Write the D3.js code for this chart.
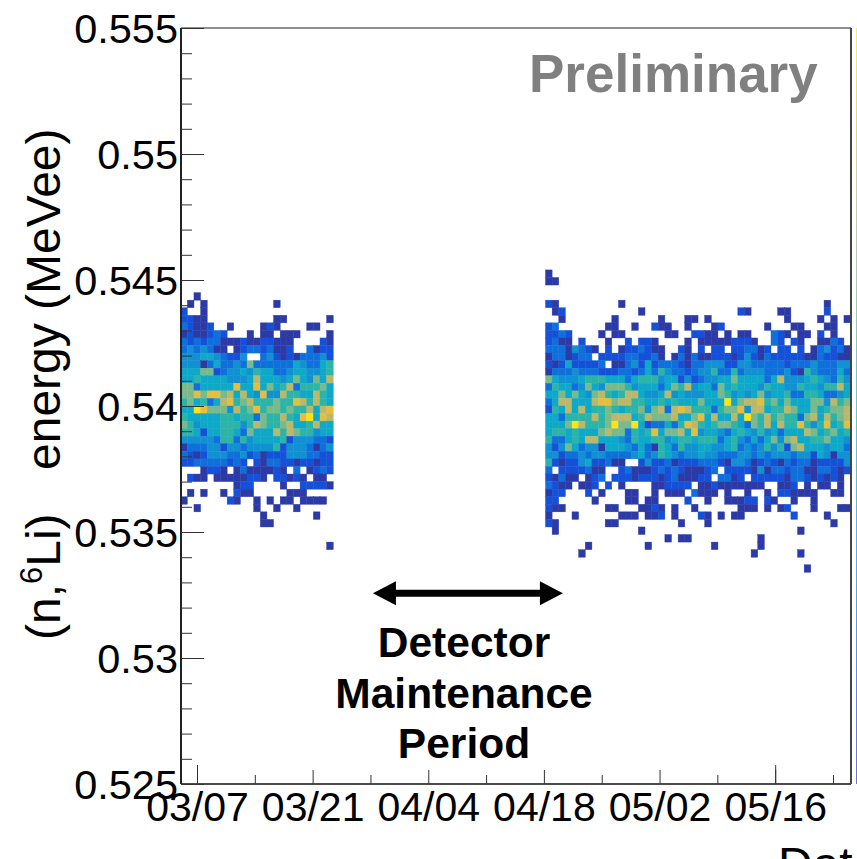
<!DOCTYPE html>
<html>
<head>
<meta charset="utf-8">
<script src="https://cdn.jsdelivr.net/npm/d3@7/dist/d3.min.js"></script>
<style>
body { margin: 0; background: #fff; }
text { font-family: "Liberation Sans", Arial, sans-serif; fill: #000; }
</style>
</head>
<body>
<div id="chart"></div>
<script>
// colour level of each bin: '.' empty, 1-9 then a = hottest
// first block: before the maintenance period, rows start at bin 35 from the top
const blockA = [
    "..1....................",
    ".1.1..........1........",
    "2..1...................",
    "2211..........11......1",
    "32112..1....121....11..",
    "1211232...1.11.111....1",
    "32323311121122111....21",
    "3434311.123323112..3122",
    "4445543224..34212133342",
    "44413533437333333543356",
    "55577234454655334554456",
    "55655554445855545754758",
    "77355555955957568366675",
    "77979978585494486655865",
    "67563589678666766986865",
    "55a97774867967767668589",
    "6555556656637668659a598",
    "76455566646876678556855",
    "66525566537555868766455",
    "44444366364555562444332",
    "13334424434444624443134",
    "32124443342312224443322",
    "2233333232.213322122122",
    "...1221.13111121.3.1232",
    ".211.11111221.22121.11.",
    "........122....1..22221",
    ".1.1..1.211.....111....",
    "1......21..1.1.11.1111.",
    "..1........1..1..1.....",
    "............1.......1..",
    "............11.........",
    ".......................",
    ".......................",
    "......................1"
];
// second block: after the period, rows start at bin 32
const blockB = [
    "1.....................",
    "11....................",
    "......................",
    "......................",
    "21.........1..........",
    ".12...........1.......",
    "..1.......1......1...1",
    "23.......11..1..211..1",
    "2232....1.11......11..",
    "2311.2...1..2.221....1",
    "33314321.2.1223211..21",
    "1331233.2222332231.131",
    "212522223.113425233321",
    "1333433322233235364332",
    "7544456665553566645524",
    "3655347547776455535768",
    "5575754786568854458454",
    "3588555899788665565655",
    "2658585667656674783898",
    "5536666867888568777855",
    "5557a86667a77a52335369",
    "5665655578773656957785",
    "6335658855543655664566",
    "4247534415554353165364",
    "4423343443333453465434",
    "621224522311..24223122",
    "3.2222311..23111232321",
    "21311.123.222122212311",
    "3211.112.2.1....112222",
    "122...2.1...11..1.111.",
    "22.....1....11.11....2",
    "211......11...1121.1..",
    "1...1......111.112.1..",
    "21.......11.........1.",
    ".1............1.......",
    "..................1.11",
    "......1........1......",
    ".....1................"
];
// third block: rest of the run, rows start at bin 36
const blockC = [
    "....................1...",
    ".......21....11.....2...",
    "1.1...........1....1.1.1",
    "...12......1...11...11..",
    "2211.1.11...321.11.2.1..",
    ".111112221..32.21..1132.",
    ".2.22.223312.22.2.134231",
    "311222124213222221132211",
    "334442244333332333433344",
    "344633634443334216433353",
    "234455755553584445654364",
    "455375655546554465546685",
    "445576454574556336653345",
    "57555a578896757555774867",
    "666367794885668755756778",
    "79585585a768676637858678",
    "865677653768586696469569",
    "945543565464535558756756",
    "566635643535747855667554",
    "455445634346462785554553",
    "454433344343444344254144",
    "233321443123213233122224",
    "1123.2222141332331133212",
    "122.3312.22222133212121.",
    ".1121111111..112.1.11.1.",
    "3111.1..1..1.221111..11.",
    "..1..11122.21..1..1.....",
    "1......111.1.12...1...11",
    ".21.1.11.......2....1...",
    "..1..................1..",
    "................1.......",
    "..........1.............",
    "...1......1.............",
    ".........1......1.......",
    "........................",
    ".................1......"
];

const levelColors = ["#2b3aa6", "#1550d8", "#0f70dc", "#1190d2", "#0ea8c8",
    "#2cb4a8", "#78ba8c", "#bcb86a", "#e6be3e", "#ffe414"];

const yTicksMajor = [0.525, 0.53, 0.535, 0.54, 0.545, 0.55, 0.555];
const yTicksMinor = d3.range(0.525, 0.5551, 0.001);
const xTickDates = ["2021-03-07", "2021-03-21", "2021-04-04", "2021-04-18", "2021-05-02", "2021-05-16"];
const xTickTall = ["2021-03-07", "2021-05-16"];
const xTickMinor = ["2021-03-14", "2021-03-28", "2021-04-11", "2021-04-25", "2021-05-09", "2021-05-23"];

const svgWidth = 857;
const svgHeight = 859;
const margin = { top: 28, right: 6, bottom: 75, left: 181 };
const frameRight = svgWidth - margin.right;
const frameBottom = svgHeight - margin.bottom;

const parseDate = d3.utcParse("%Y-%m-%d");
const dayMs = 86400000;

const xScale = d3.scaleUtc()
    .domain([new Date(Date.UTC(2021, 2, 5, 1, 30)), new Date(Date.UTC(2021, 4, 25, 4, 20))])
    .range([margin.left, frameRight]);

const yScale = d3.scaleLinear()
    .domain([0.525, 0.555])
    .range([frameBottom, margin.top]);

// histogram binning, 100 bins each way
const binDays = 0.803;
const binOrigin = parseDate("2021-03-07").getTime() - 1.17 * dayMs;
const binEnergy = 0.0003;
const binDate = c => new Date(binOrigin + c * binDays * dayMs);
const rowTop = k => 0.555 - k * binEnergy;

const colorScale = d3.scaleOrdinal()
    .domain("123456789a".split(""))
    .range(levelColors);

const svg = d3.select("#chart")
    .append("svg")
    .attr("width", svgWidth)
    .attr("height", svgHeight)
    .style("display", "block");

// flatten the three blocks into cells
const blocks = [
    { rows: blockA, firstCol: -1, firstRow: 35 },
    { rows: blockB, firstCol: 54, firstRow: 32 },
    { rows: blockC, firstCol: 76, firstRow: 36 }
];
const cells = [];
blocks.forEach(b => {
    b.rows.forEach((row, r) => {
        row.split("").forEach((ch, i) => {
            if (ch !== ".") cells.push({ col: b.firstCol + i, row: b.firstRow + r, level: ch });
        });
    });
});

svg.append("g")
    .selectAll("rect")
    .data(cells)
    .enter().append("rect")
    .attr("x", d => xScale(binDate(d.col)))
    .attr("y", d => yScale(rowTop(d.row)))
    .attr("width", d => xScale(binDate(d.col + 1)) - xScale(binDate(d.col)))
    .attr("height", d => yScale(rowTop(d.row + 1)) - yScale(rowTop(d.row)))
    .attr("fill", d => colorScale(d.level))
    .attr("stroke", d => colorScale(d.level))
    .attr("stroke-width", 0.4);

// sliver of the palette bar at the page edge
const grad = svg.append("defs").append("linearGradient")
    .attr("id", "palette")
    .attr("x1", 0).attr("y1", 1).attr("x2", 0).attr("y2", 0);
levelColors.forEach((c, i) => {
    grad.append("stop")
        .attr("offset", i / (levelColors.length - 1))
        .attr("stop-color", c);
});
svg.append("rect")
    .attr("x", 856)
    .attr("y", margin.top)
    .attr("width", 1)
    .attr("height", frameBottom - margin.top)
    .attr("fill", "url(#palette)")
    .attr("opacity", 0.7);

// frame
svg.append("line").attr("x1", margin.left).attr("x2", frameRight).attr("y1", margin.top).attr("y2", margin.top)
    .attr("stroke", "#222").attr("stroke-width", 1.2);
svg.append("line").attr("x1", margin.left).attr("x2", frameRight).attr("y1", frameBottom).attr("y2", frameBottom)
    .attr("stroke", "#111").attr("stroke-width", 1.6);
svg.append("line").attr("x1", margin.left).attr("x2", margin.left).attr("y1", margin.top).attr("y2", frameBottom)
    .attr("stroke", "#222").attr("stroke-width", 2);
svg.append("line").attr("x1", frameRight).attr("x2", frameRight).attr("y1", margin.top).attr("y2", frameBottom)
    .attr("stroke", "#444").attr("stroke-width", 2);

function styleTicks(g) {
    g.select(".domain").remove();
    g.selectAll(".tick line").attr("stroke", "#333").attr("stroke-width", 1);
}

// y axis: short ticks then long ones with labels
svg.append("g")
    .attr("transform", "translate(" + margin.left + ",0)")
    .call(d3.axisLeft(yScale).tickValues(yTicksMinor).tickSizeInner(-11).tickFormat(""))
    .call(styleTicks);

svg.append("g")
    .attr("transform", "translate(" + margin.left + ",0)")
    .call(d3.axisLeft(yScale).tickValues(yTicksMajor).tickSizeInner(-23).tickPadding(3)
        .tickFormat(d3.format(".4~f")))
    .call(styleTicks)
    .selectAll("text")
    .style("font-size", "41.5px")
    .attr("dy", "0.36em");

// x axis: three tick lengths
svg.append("g")
    .attr("transform", "translate(0," + frameBottom + ")")
    .call(d3.axisBottom(xScale).tickValues(xTickMinor.map(parseDate)).tickSizeInner(-9).tickFormat(""))
    .call(styleTicks);

svg.append("g")
    .attr("transform", "translate(0," + frameBottom + ")")
    .call(d3.axisBottom(xScale).tickValues(xTickTall.map(parseDate)).tickSizeInner(-19).tickFormat(""))
    .call(styleTicks);

svg.append("g")
    .attr("transform", "translate(0," + frameBottom + ")")
    .call(d3.axisBottom(xScale).tickValues(xTickDates.map(parseDate)).tickSizeInner(-14).tickPadding(8)
        .tickFormat(d3.utcFormat("%m/%d")))
    .call(styleTicks)
    .selectAll("text")
    .style("font-size", "41px");

// axis titles
const yTitle = svg.append("text")
    .attr("transform", "translate(60,640) rotate(-90)")
    .style("font-size", "48px");
yTitle.append("tspan").text("(n,");
yTitle.append("tspan").attr("dy", -18).style("font-size", "31px").text("6");
yTitle.append("tspan").attr("dy", 18).text("Li)");
yTitle.append("tspan").attr("x", 170).text("energy (MeVee)");

svg.append("text")
    .attr("x", 778)
    .attr("y", 881)
    .style("font-size", "48px")
    .text("Date");

svg.append("text")
    .attr("x", 529)
    .attr("y", 92)
    .style("font-size", "53px")
    .style("font-weight", "bold")
    .style("fill", "#808080")
    .text("Preliminary");

// maintenance period annotation
const arrowY = 0.53257;
const arrowFrom = parseDate("2021-03-28").getTime() + 0.3 * dayMs;
const arrowTo = parseDate("2021-04-18").getTime() + 2.3 * dayMs;
const headLen = 23;
const headHalf = 12;
const ax0 = xScale(arrowFrom);
const ax1 = xScale(arrowTo);
const ay = yScale(arrowY);

svg.append("line")
    .attr("x1", ax0 + headLen - 1).attr("x2", ax1 - headLen + 1)
    .attr("y1", ay).attr("y2", ay)
    .attr("stroke", "#000").attr("stroke-width", 7);
svg.append("path")
    .attr("fill", "#000")
    .attr("d", "M" + ax0 + "," + ay + "L" + (ax0 + headLen) + "," + (ay - headHalf) + "V" + (ay + headHalf) + "Z"
        + "M" + ax1 + "," + ay + "L" + (ax1 - headLen) + "," + (ay - headHalf) + "V" + (ay + headHalf) + "Z");

const periodLines = ["Detector", "Maintenance", "Period"];
const periodBaselines = [657, 708, 758];
svg.append("g")
    .selectAll("text")
    .data(periodLines)
    .enter().append("text")
    .attr("x", 464)
    .attr("y", (d, i) => periodBaselines[i])
    .attr("text-anchor", "middle")
    .style("font-size", "42.5px")
    .style("font-weight", "bold")
    .text(d => d);
</script>
</body>
</html>
